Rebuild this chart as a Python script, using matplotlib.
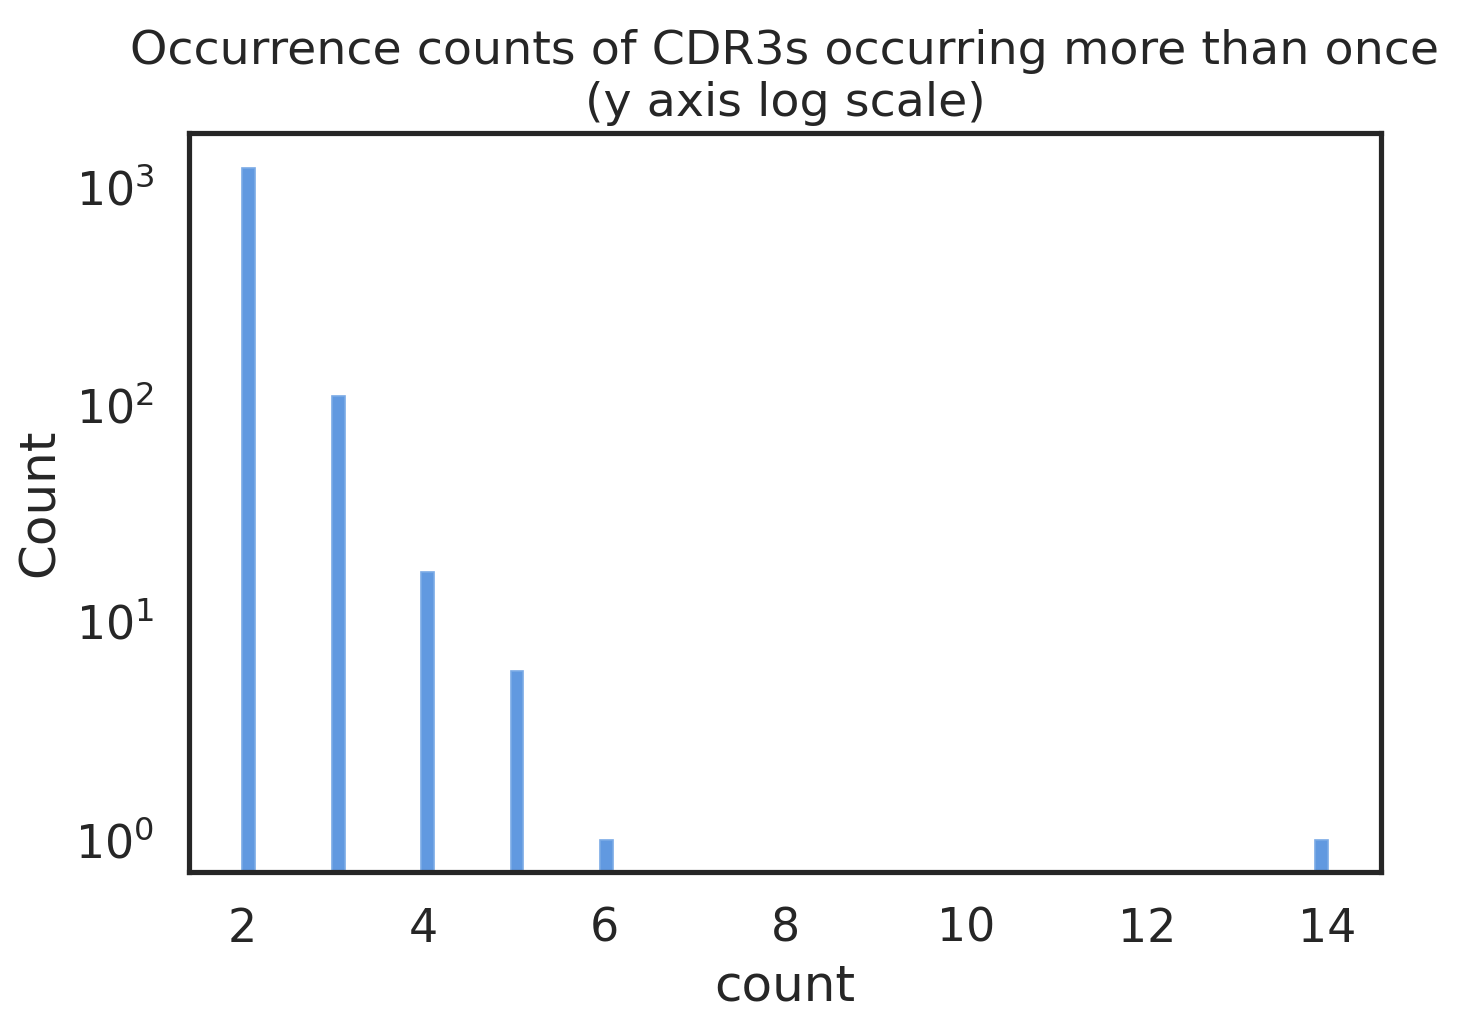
import matplotlib
matplotlib.use('Agg')
import matplotlib.pyplot as plt
import seaborn as sns
import numpy as np

# occurrence count of a CDR3 and how many CDR3s have that count
occ_values = [2, 3, 4, 5, 6, 14]
occ_freq = [1217, 110, 17, 6, 1, 1]

sns.set_theme(style='white', context='talk')

fig = plt.figure(figsize=(7.305, 5.14), dpi=200)
ax = fig.add_axes([0.1294, 0.1518, 0.9452 - 0.1294, 0.8706 - 0.1518])

edges = np.linspace(2, 14, 86)
ax.hist(occ_values, bins=edges, weights=occ_freq, color='#6199e0',
        edgecolor='#7aaae6', linewidth=0.6)

ax.set_yscale('log')
ax.set_ylim(0.713, 1770)
ax.set_xlim(1.41, 14.59)
ax.set_xticks([2, 4, 6, 8, 10, 12, 14])

for s in ax.spines.values():
    s.set_color('#262626')

ax.set_xlabel('count')
ax.set_ylabel('Count')
ax.set_title('Occurrence counts of CDR3s occurring more than once\n(y axis log scale)',
             fontsize=17.1)

fig.savefig('out.png', dpi=200)
